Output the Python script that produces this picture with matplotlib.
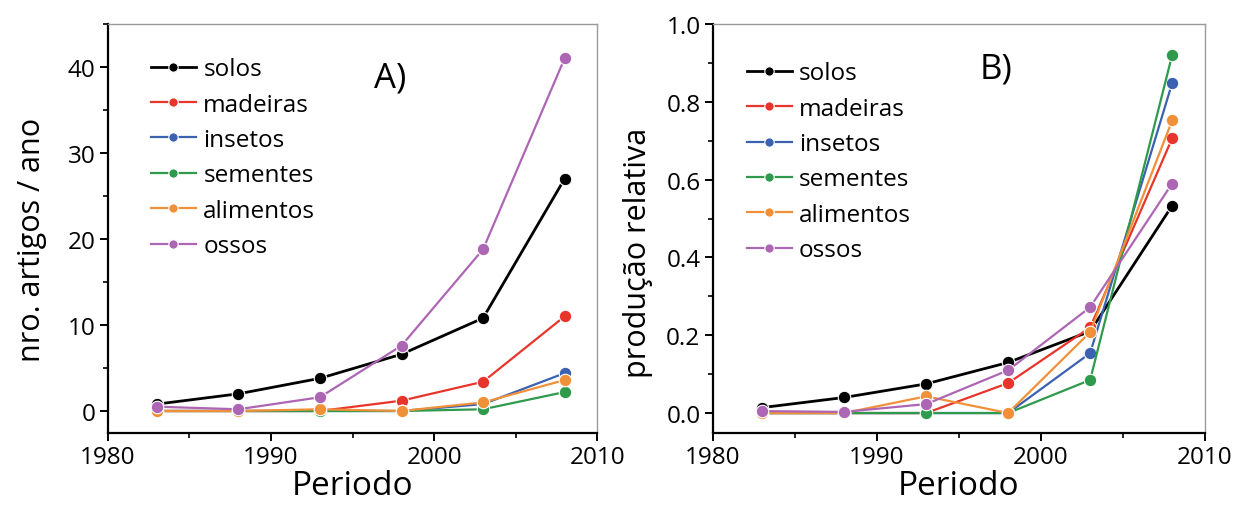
import matplotlib
matplotlib.use("Agg")
import matplotlib.pyplot as plt
from matplotlib.ticker import MultipleLocator, FormatStrFormatter

plt.rcParams['font.family'] = ['Open Sans', 'DejaVu Sans']

years = [1983, 1988, 1993, 1998, 2003, 2008]
names = ["solos", "madeiras", "insetos", "sementes", "alimentos", "ossos"]
colors = ["#000000", "#e8352b", "#3b62b0", "#2f9a4c", "#f0913a", "#ad66b4"]

# Panel A: nro. artigos / ano
a_solos = [0.8, 2.0, 3.8, 6.6, 10.8, 27.0]
a_madeiras = [0.0, 0.0, 0.0, 1.2, 3.4, 11.0]
a_insetos = [0.0, 0.0, 0.0, 0.0, 0.8, 4.4]
a_sementes = [0.0, 0.0, 0.0, 0.0, 0.2, 2.2]
a_alimentos = [0.0, 0.0, 0.2, 0.0, 1.0, 3.6]
a_ossos = [0.5, 0.2, 1.6, 7.6, 18.8, 41.0]

# Panel B: producao relativa
b_solos = [0.014, 0.040, 0.075, 0.130, 0.210, 0.533]
b_madeiras = [0.0, 0.0, 0.0, 0.077, 0.220, 0.706]
b_insetos = [0.0, 0.0, 0.0, 0.0, 0.154, 0.848]
b_sementes = [0.0, 0.0, 0.0, 0.0, 0.085, 0.920]
b_alimentos = [0.0, 0.0, 0.043, 0.0, 0.208, 0.752]
b_ossos = [0.005, 0.003, 0.023, 0.110, 0.272, 0.590]

A = [a_solos, a_madeiras, a_insetos, a_sementes, a_alimentos, a_ossos]
B = [b_solos, b_madeiras, b_insetos, b_sementes, b_alimentos, b_ossos]

fig = plt.figure(figsize=(12.38, 5.10), dpi=100)
axA = fig.add_axes([0.0872, 0.150, 0.3952, 0.801])
axB = fig.add_axes([0.5759, 0.150, 0.3974, 0.801])


def style(ax):
    for s in ["left", "bottom"]:
        ax.spines[s].set_linewidth(1.6)
        ax.spines[s].set_color("black")
    for s in ["top", "right"]:
        ax.spines[s].set_linewidth(1.0)
        ax.spines[s].set_color("#9a9a9a")
    ax.tick_params(which="major", direction="out", length=6, width=1.4,
                   labelsize=17.5, top=False, right=False, pad=3)
    ax.tick_params(which="minor", direction="out", length=3.5, width=1.2,
                   top=False, right=False)
    ax.set_xlim(1980, 2010)
    ax.xaxis.set_major_locator(MultipleLocator(10))
    ax.xaxis.set_minor_locator(MultipleLocator(5))
    ax.set_xlabel("Periodo", fontsize=24, labelpad=0)


legend_pos = {id(axA): (0.088, 0.919), id(axB): (0.0685, 0.909)}

for ax, data in [(axA, A), (axB, B)]:
    for name, col, vals in zip(names, colors, data):
        ax.plot(years, vals, color=col, lw=2.0 if col == "#000000" else 1.6,
                marker="o", markersize=9, markeredgecolor="white",
                markeredgewidth=0.8, label=name, zorder=3)
    style(ax)
    ax.legend(loc="upper left", bbox_to_anchor=legend_pos[id(ax)], frameon=False,
              fontsize=17.5, handlelength=1.85, handletextpad=0.3,
              labelspacing=0.47, borderaxespad=0, borderpad=0, markerscale=0.75)

axA.set_ylim(-2.5, 45)
axA.yaxis.set_major_locator(MultipleLocator(10))
axA.yaxis.set_minor_locator(MultipleLocator(5))
axA.set_ylabel("nro. artigos / ano", fontsize=22)
axA.yaxis.set_label_coords(-0.1247, 0.474)
axA.text(0.543, 0.9095, "A)", transform=axA.transAxes, fontsize=25, va="top")

axB.set_ylim(-0.05, 1.0)
axB.yaxis.set_major_locator(MultipleLocator(0.2))
axB.yaxis.set_minor_locator(MultipleLocator(0.1))
axB.yaxis.set_major_formatter(FormatStrFormatter("%.1f"))
axB.set_ylabel("produção relativa", fontsize=22)
axB.yaxis.set_label_coords(-0.122, 0.442)
axB.text(0.541, 0.9315, "B)", transform=axB.transAxes, fontsize=25, va="top")

fig.savefig("out.png", dpi=100)
